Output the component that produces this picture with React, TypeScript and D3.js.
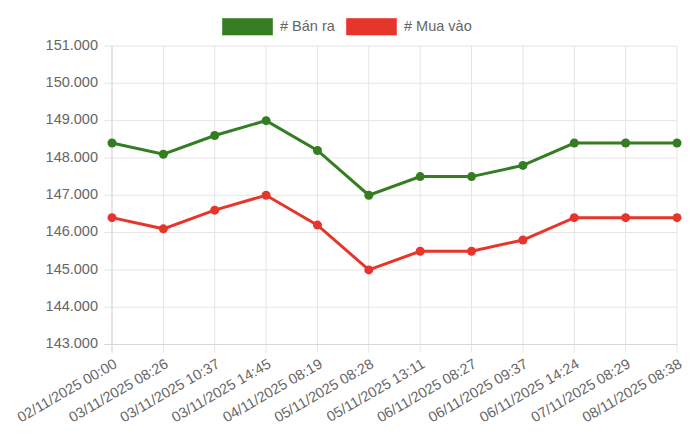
import React from 'react';
import * as d3 from 'd3';

const labels = [
  '02/11/2025 00:00', '03/11/2025 08:26', '03/11/2025 10:37', '03/11/2025 14:45',
  '04/11/2025 08:19', '05/11/2025 08:28', '05/11/2025 13:11', '06/11/2025 08:27',
  '06/11/2025 09:37', '06/11/2025 14:24', '07/11/2025 08:29', '08/11/2025 08:38',
];
const banRa = [148.4, 148.1, 148.6, 149.0, 148.2, 147.0, 147.5, 147.5, 147.8, 148.4, 148.4, 148.4];
const muaVao = [146.4, 146.1, 146.6, 147.0, 146.2, 145.0, 145.5, 145.5, 145.8, 146.4, 146.4, 146.4];
const yTicks = [143, 144, 145, 146, 147, 148, 149, 150, 151];

const series = [
  { name: '# Bán ra', values: banRa, color: '#347d22' },
  { name: '# Mua vào', values: muaVao, color: '#e8352b' },
];

const W = 700;
const H = 438;
const left = 112;
const right = 677;
const top = 46;
const bottom = 344.5;
const font = '"Liberation Sans", Arial, Helvetica, sans-serif';
const textColor = '#666';
const gridColor = '#e5e5e5';

const App = () => {
  const x = d3.scalePoint<number>().domain(d3.range(labels.length)).range([left, right]);
  const y = d3.scaleLinear().domain([143, 151]).range([bottom, top]);
  const line = d3.line<number>().x((_, i) => x(i)!).y(d => y(d));
  const fmt = (v: number) => d3.format('.3f')(v);

  return (
    <svg width={W} height={H} style={{ position: 'absolute', left: 0, top: 0 }} fontFamily={font}>
      {/* legend */}
      {series.map((s, i) => {
        const lx = i === 0 ? 222 : 346;
        return (
          <g key={s.name}>
            <rect x={lx} y={18} width={51} height={17.5} fill={s.color} stroke="#fff" strokeOpacity={0.4} />
            <text x={lx + 58} y={27} dominantBaseline="middle" fontSize={14.5} fill={textColor}>{s.name}</text>
          </g>
        );
      })}

      {/* horizontal grid + y labels */}
      {yTicks.map(t => (
        <g key={t}>
          <line x1={left - 8} x2={right} y1={y(t)} y2={y(t)} stroke={gridColor} />
          <text x={98} y={y(t)} textAnchor="end" dominantBaseline="middle" fontSize={14.5} fill={textColor}>
            {fmt(t)}
          </text>
        </g>
      ))}

      {/* vertical grid + x labels */}
      {labels.map((l, i) => (
        <g key={l}>
          <line x1={x(i)} x2={x(i)} y1={top} y2={bottom + 8} stroke={gridColor} />
          <text
            transform={`translate(${x(i)! + 4},${bottom + 19}) rotate(-30)`}
            textAnchor="end"
            dominantBaseline="middle"
            fontSize={14.5}
            fill={textColor}
          >
            {l}
          </text>
        </g>
      ))}
      <line x1={left} x2={left} y1={top} y2={bottom + 8} stroke="#d8d8d8" />
      <line x1={left - 8} x2={right} y1={bottom} y2={bottom} stroke="#d8d8d8" />

      {/* series */}
      {series.map(s => (
        <g key={s.name}>
          <path d={line(s.values) ?? ''} fill="none" stroke={s.color} strokeWidth={3} />
          {s.values.map((v, i) => (
            <circle key={i} cx={x(i)} cy={y(v)} r={4.5} fill={s.color} />
          ))}
        </g>
      ))}
    </svg>
  );
};

export default App;
